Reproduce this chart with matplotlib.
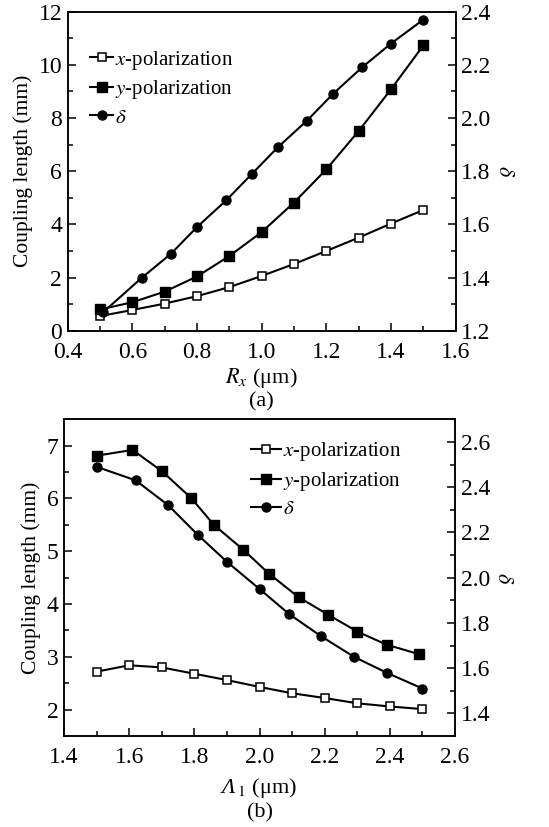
import matplotlib
matplotlib.use('Agg')
import matplotlib.pyplot as plt
from matplotlib.ticker import MultipleLocator
from matplotlib.offsetbox import TextArea, HPacker, AnnotationBbox

plt.rcParams['font.family'] = ['Liberation Serif', 'DejaVu Serif']
plt.rcParams['mathtext.fontset'] = 'stix'
plt.rcParams['font.size'] = 15

# (a) coupling length vs Rx
xa = [0.5, 0.6, 0.7, 0.8, 0.9, 1.0, 1.1, 1.2, 1.3, 1.4, 1.5]
xpol_a = [0.55, 0.78, 1.02, 1.30, 1.64, 2.06, 2.51, 3.00, 3.50, 4.03, 4.54]
ypol_a = [0.80, 1.07, 1.47, 2.04, 2.81, 3.71, 4.82, 6.07, 7.51, 9.08, 10.73]
delta_xa = [0.51, 0.63, 0.72, 0.80, 0.89, 0.97, 1.05, 1.14, 1.22, 1.31, 1.40, 1.50]
delta_a = [1.27, 1.40, 1.49, 1.59, 1.69, 1.79, 1.89, 1.99, 2.09, 2.19, 2.28, 2.37]

# (b) coupling length vs Lambda1
xb = [1.5, 1.6, 1.7, 1.8, 1.9, 2.0, 2.1, 2.2, 2.3, 2.4, 2.5]
xpol_b = [2.72, 2.84, 2.80, 2.68, 2.56, 2.43, 2.31, 2.22, 2.12, 2.06, 2.01]
ypol_xb = [1.50, 1.61, 1.70, 1.79, 1.86, 1.95, 2.03, 2.12, 2.21, 2.30, 2.39, 2.49]
ypol_b = [6.81, 6.92, 6.52, 6.01, 5.50, 5.03, 4.57, 4.13, 3.80, 3.48, 3.23, 3.05]
delta_xb = [1.50, 1.62, 1.72, 1.81, 1.90, 2.00, 2.09, 2.19, 2.29, 2.39, 2.50]
delta_b = [2.49, 2.43, 2.32, 2.19, 2.07, 1.95, 1.84, 1.74, 1.65, 1.58, 1.51]

labels = [r'$x$-polarization', r'$y$-polarization', r'$\delta$']

fig = plt.figure(figsize=(5.49, 8.27), dpi=100)


def style(ax, ax2, xmaj, ymaj, y2maj):
    ax.xaxis.set_major_locator(MultipleLocator(xmaj))
    ax.xaxis.set_minor_locator(MultipleLocator(xmaj / 2))
    ax.yaxis.set_major_locator(MultipleLocator(ymaj))
    ax.yaxis.set_minor_locator(MultipleLocator(ymaj / 2))
    ax2.yaxis.set_major_locator(MultipleLocator(y2maj))
    ax2.yaxis.set_minor_locator(MultipleLocator(y2maj / 2))
    for a in (ax, ax2):
        a.tick_params(which='major', direction='in', length=6, width=1.1, pad=4, labelsize=17)
        a.tick_params(which='minor', direction='in', length=3.5, width=1.1)
        for s in a.spines.values():
            s.set_linewidth(1.1)
    ax.tick_params(axis='x', which='major', pad=8)


def draw(rect, x, xp, yx, yp, dx, dv, xlim, ylim, y2lim, xmaj, ymaj, y2maj,
         tag, tag_y, leg_anchor, hl):
    ax = fig.add_axes(rect)
    ax2 = ax.twinx()
    l1, = ax.plot(x, xp, '-s', color='black', lw=1.5, ms=6, mfc='white', mew=1.1)
    l2, = ax.plot(yx, yp, '-s', color='black', lw=1.5, ms=7)
    l3, = ax2.plot(dx, dv, '-o', color='black', lw=1.5, ms=6.5)
    ax.set_xlim(xlim)
    ax.set_ylim(ylim)
    ax2.set_ylim(y2lim)
    style(ax, ax2, xmaj, ymaj, y2maj)
    ax.set_ylabel('Coupling length (mm)', labelpad=4, fontsize=15.5)
    ax2.set_ylabel(r'$\delta$', rotation=270, labelpad=16, fontsize=16)
    ax2.legend([l1, l2, l3], labels, loc='upper left', bbox_to_anchor=leg_anchor,
               frameon=False, handlelength=hl, handletextpad=0.1,
               labelspacing=0.32, borderaxespad=0, fontsize=15)
    fig.text(rect[0] + rect[2] / 2, tag_y, tag, ha='center', va='center', fontsize=16)
    return ax


ax_a = draw([0.1233, 0.6001, 0.7067, 0.3858], xa, xpol_a, xa, ypol_a, delta_xa, delta_a,
            (0.4, 1.6), (0, 12), (1.2, 2.4), 0.2, 2, 0.2,
            '(a)', 1 - 402 / 827, (0.037, 0.91), 1.1)
ax_a.set_xlabel(r'$R_x$ (μm)', labelpad=2, fontsize=16)

ax_b = draw([0.1166, 0.1100, 0.7122, 0.3830], xb, xpol_b, ypol_xb, ypol_b, delta_xb, delta_b,
            (1.4, 2.6), (1.5, 7.5), (1.3, 2.7), 0.2, 1, 0.2,
            '(b)', 1 - 813 / 827, (0.456, 0.96), 1.45)
# italic capital Lambda needs its own text piece
lab = HPacker(children=[TextArea('Λ', textprops=dict(style='italic', fontsize=16)),
                        TextArea(r'$_1$ (μm)', textprops=dict(fontsize=16))],
              align='baseline', pad=0, sep=1)
ax_b.add_artist(AnnotationBbox(lab, (0.5, -0.165), xycoords='axes fraction',
                               frameon=False, box_alignment=(0.5, 0.5), annotation_clip=False))

fig.savefig('out.png', dpi=100)
